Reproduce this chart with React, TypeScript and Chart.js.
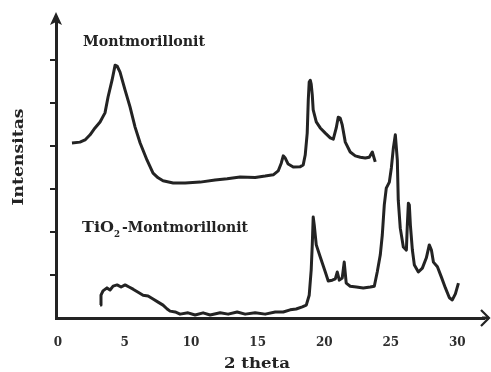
import React, { useEffect, useRef } from 'react';
import { Chart, registerables } from 'chart.js';

Chart.register(...registerables);

// ---- data (2 theta in degrees, intensity in arbitrary units) ----
const montTheta = [
  1.05, 1.65, 2.03, 2.41, 2.78, 3.16, 3.53, 3.76, 4.06, 4.29, 4.44, 4.66, 5.04, 5.41, 5.79,
  6.17, 6.69, 7.14, 7.52, 7.89, 8.65, 9.55, 10.68, 11.8, 12.71, 13.68, 14.81, 15.56, 16.17,
  16.54, 16.77, 16.92, 17.07, 17.29, 17.67, 18.2, 18.42, 18.57, 18.72, 18.8, 18.87, 18.95,
  19.02, 19.1, 19.17, 19.4, 19.7, 20.08, 20.45, 20.68, 20.9, 21.05, 21.2, 21.35, 21.58,
  21.95, 22.33, 22.71, 23.08, 23.38, 23.61, 23.83,
];
const montIntensity = [
  4.07, 4.09, 4.14, 4.26, 4.42, 4.56, 4.77, 5.14, 5.53, 5.88, 5.86, 5.72, 5.3, 4.91, 4.44,
  4.07, 3.67, 3.37, 3.26, 3.19, 3.14, 3.14, 3.16, 3.21, 3.24, 3.28, 3.27, 3.3, 3.33,
  3.42, 3.6, 3.77, 3.72, 3.58, 3.51, 3.52, 3.56, 3.79, 4.3, 5.07, 5.49, 5.53,
  5.44, 5.19, 4.84, 4.56, 4.42, 4.3, 4.19, 4.16, 4.42, 4.67, 4.65, 4.49, 4.09,
  3.86, 3.77, 3.74, 3.72, 3.74, 3.86, 3.63,
];

const tioTheta = [
  3.16, 3.23, 3.38, 3.68, 3.91, 4.14, 4.44, 4.74, 5.04, 5.34, 5.64, 6.02, 6.39, 6.77, 7.14,
  7.52, 7.89, 8.2, 8.42, 8.8, 9.17, 9.77, 10.3, 10.9, 11.43, 12.18, 12.78, 13.46, 14.06,
  14.81, 15.56, 16.32, 16.92, 17.44, 17.89, 18.35, 18.65, 18.87, 19.02, 19.1, 19.17, 19.25,
  19.4, 19.7, 20.08, 20.3, 20.6, 20.83, 20.98, 21.13, 21.35, 21.5, 21.65, 21.95, 22.41,
  22.93, 23.46, 23.76, 23.98, 24.21, 24.36, 24.51, 24.66, 24.89, 25.04, 25.19, 25.34, 25.49,
  25.56, 25.71, 25.94, 26.17, 26.24, 26.32, 26.39, 26.47, 26.62, 26.77, 27.07, 27.37, 27.67,
  27.89, 28.05, 28.2, 28.5, 28.8, 29.1, 29.4, 29.62, 29.85, 30.08,
];
const tioIntensity = [
  0.3, 0.53, 0.63, 0.7, 0.65, 0.74, 0.77, 0.72, 0.77, 0.72, 0.67, 0.6, 0.53, 0.51, 0.44,
  0.37, 0.3, 0.21, 0.16, 0.14, 0.09, 0.12, 0.07, 0.12, 0.07, 0.12, 0.09, 0.14, 0.09,
  0.12, 0.09, 0.14, 0.14, 0.19, 0.21, 0.26, 0.3, 0.53, 1.12, 1.7, 2.35, 2.16,
  1.7, 1.42, 1.07, 0.86, 0.88, 0.91, 1.07, 0.88, 0.93, 1.3, 0.81, 0.74, 0.72,
  0.7, 0.72, 0.74, 1.07, 1.47, 1.93, 2.63, 3.02, 3.16, 3.49, 3.95, 4.26, 3.67,
  2.74, 2.09, 1.65, 1.58, 2.16, 2.67, 2.63, 2.16, 1.58, 1.23, 1.07, 1.16, 1.4,
  1.7, 1.58, 1.3, 1.19, 0.95, 0.7, 0.47, 0.42, 0.56, 0.81,
];

const xTickValues = [0, 5, 10, 15, 20, 25, 30];
const yTickValues = [1, 2, 3, 4, 5, 6];
const seriesNames = ['Montmorillonit', 'TiO2-Montmorillonit'];
const xTitle = '2 theta';
const yTitle = 'Intensitas';

const INK = '#232323';
const SERIF = '"DejaVu Serif", "Liberation Serif", serif';

function fitText(
  ctx: CanvasRenderingContext2D,
  text: string,
  x: number,
  y: number,
  width: number,
  font: string,
  center = false
) {
  ctx.font = font;
  const w = ctx.measureText(text).width;
  ctx.save();
  ctx.translate(x, y);
  ctx.scale(width / w, 1);
  ctx.fillText(text, center ? -w / 2 : 0, 0);
  ctx.restore();
}

const decorPlugin = {
  id: 'decor',
  afterDraw(chart: any) {
    const { ctx, chartArea, scales } = chart;
    const xs = scales.x;
    const ys = scales.y;
    ctx.save();
    ctx.fillStyle = INK;
    ctx.strokeStyle = INK;
    ctx.textBaseline = 'middle';

    // x-axis arrow
    ctx.lineWidth = 3;
    ctx.beginPath();
    ctx.moveTo(chartArea.right - 2, chartArea.bottom);
    ctx.lineTo(chartArea.right + 5, chartArea.bottom);
    ctx.stroke();
    ctx.lineWidth = 2.2;
    ctx.beginPath();
    ctx.moveTo(chartArea.right - 3, chartArea.bottom - 8);
    ctx.lineTo(chartArea.right + 5, chartArea.bottom);
    ctx.lineTo(chartArea.right - 3, chartArea.bottom + 8);
    ctx.stroke();

    // y-axis arrow
    const ax = chartArea.left;
    ctx.beginPath();
    ctx.moveTo(ax, chartArea.top - 5);
    ctx.lineTo(ax - 6, chartArea.top + 8);
    ctx.lineTo(ax, chartArea.top + 5);
    ctx.lineTo(ax + 6, chartArea.top + 8);
    ctx.closePath();
    ctx.fill();

    // series labels
    const l1x = xs.getPixelForValue(1.88);
    const l1y = ys.getPixelForValue(6.42);
    fitText(ctx, seriesNames[0], l1x, l1y, 122, `bold 14px ${SERIF}`);

    const l2x = xs.getPixelForValue(1.8);
    const l2y = ys.getPixelForValue(2.09);
    const parts = seriesNames[1].split('2');
    fitText(ctx, parts[0], l2x, l2y, 32, `bold 14px ${SERIF}`);
    fitText(ctx, '2', l2x + 32, l2y + 6, 6, `bold 10px ${SERIF}`);
    fitText(ctx, parts[1], l2x + 40, l2y, 126, `bold 14px ${SERIF}`);

    // axis titles
    fitText(ctx, xTitle, 257, 364, 66, `bold 15px ${SERIF}`, true);
    ctx.save();
    ctx.translate(19, 157);
    ctx.rotate(-Math.PI / 2);
    fitText(ctx, yTitle, 0, 0, 97, `bold 15px ${SERIF}`, true);
    ctx.restore();

    ctx.restore();
  },
};

export default function App() {
  const ref = useRef<HTMLCanvasElement | null>(null);

  useEffect(() => {
    if (!ref.current) return;
    const chart = new Chart(ref.current, {
      type: 'line',
      data: {
        datasets: [
          {
            label: seriesNames[0],
            data: montTheta.map((x, i) => ({ x, y: montIntensity[i] })),
            borderColor: INK,
            borderWidth: 3,
            borderJoinStyle: 'round',
            pointRadius: 0,
            tension: 0,
            fill: false,
          },
          {
            label: seriesNames[1],
            data: tioTheta.map((x, i) => ({ x, y: tioIntensity[i] })),
            borderColor: INK,
            borderWidth: 3,
            borderJoinStyle: 'round',
            pointRadius: 0,
            tension: 0,
            fill: false,
          },
        ],
      },
      options: {
        responsive: false,
        animation: false,
        layout: { padding: { top: 17, right: 7, left: 0, bottom: 0 } },
        plugins: { legend: { display: false }, tooltip: { enabled: false } },
        scales: {
          x: {
            type: 'linear',
            min: -0.15,
            max: 32,
            afterBuildTicks: (s: any) => {
              s.ticks = xTickValues.map((v) => ({ value: v }));
            },
            afterFit: (s: any) => {
              s.height = 54;
            },
            ticks: {
              color: '#2e2e2e',
              padding: 10,
              maxRotation: 0,
              autoSkip: false,
              font: { family: SERIF, size: 12, weight: 'bold' },
            },
            grid: { display: false },
            border: { display: true, color: INK, width: 3 },
          },
          y: {
            type: 'linear',
            min: 0,
            max: 7,
            afterBuildTicks: (s: any) => {
              s.ticks = yTickValues.map((v) => ({ value: v }));
            },
            afterFit: (s: any) => {
              s.width = 56;
            },
            ticks: { display: false },
            grid: {
              display: true,
              drawOnChartArea: false,
              drawTicks: true,
              tickLength: 6,
              color: INK,
              lineWidth: 2,
            },
            border: { display: true, color: INK, width: 3 },
          },
        },
      },
      plugins: [decorPlugin],
    });
    return () => chart.destroy();
  }, []);

  return (
    <div style={{ position: 'absolute', left: 0, top: 0, width: 491, height: 372, background: '#fff' }}>
      <canvas ref={ref} width={491} height={372} />
    </div>
  );
}
